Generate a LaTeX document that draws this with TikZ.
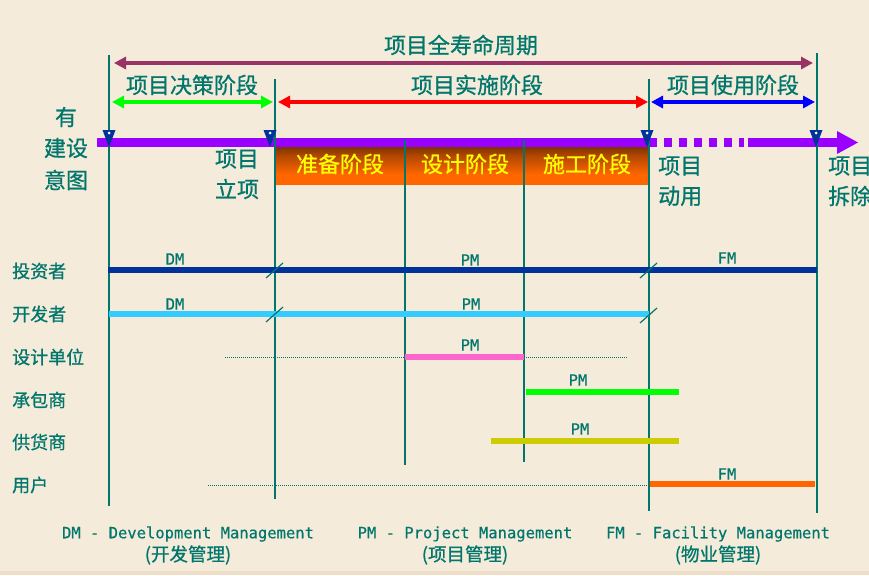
\documentclass[tikz,border=0pt]{standalone}
\usepackage{fontspec}
\setmainfont{Noto Sans CJK SC}[FakeBold=0.8]
\newfontfamily\monof{DejaVu Sans Mono}[FakeBold=0.5]
\usetikzlibrary{arrows.meta}
\definecolor{bgc}{RGB}{245,235,218}
\definecolor{tealc}{RGB}{0,118,108}
\definecolor{lifec}{RGB}{153,51,102}
\definecolor{greenc}{RGB}{0,255,0}
\definecolor{redc}{RGB}{255,0,0}
\definecolor{bluec}{RGB}{0,0,255}
\definecolor{barc}{RGB}{153,0,255}
\definecolor{navyc}{RGB}{0,51,153}
\definecolor{lbluec}{RGB}{51,204,255}
\definecolor{pinkc}{RGB}{255,102,204}
\definecolor{olivec}{RGB}{204,204,0}
\definecolor{orangec}{RGB}{255,102,0}
\definecolor{yellowc}{RGB}{255,255,0}
\pgfdeclareverticalshading{boxshade}{100bp}{color(0bp)=(orangec); color(38bp)=(orangec); color(62bp)=(orangec!70!black); color(85bp)=(orangec!30!black); color(100bp)=(black)}
\begin{document}
\begin{tikzpicture}[x=1pt,y=-1pt,
  lbl/.style={text=tealc, font=\fontsize{22}{26}\selectfont, inner sep=0pt},
  rowlbl/.style={text=tealc, font=\fontsize{18}{21}\selectfont, inner sep=0pt, anchor=west},
  stagetxt/.style={text=yellowc, font=\fontsize{22}{26}\selectfont, inner sep=0pt},
  mg/.style={text=tealc, font=\monof\fontsize{15.5}{18}\selectfont, inner sep=0pt},
  legcn/.style={text=tealc, font=\fontsize{18.5}{22}\selectfont, inner sep=0pt},
  vline/.style={draw=tealc, line width=2.6pt},
  phase/.style={line width=4pt, {Triangle[length=12pt,width=12pt]}-{Triangle[length=12pt,width=12pt]}},
  roleline/.style={line width=6pt},
  dotline/.style={draw=tealc, line width=1pt, dash pattern=on 1pt off 1pt},
  slash/.style={draw=tealc, line width=1.2pt},
  marker/.style={fill=navyc}
]
\useasboundingbox (0,0) rectangle (869,575);
\fill[bgc] (0,0) rectangle (869,575);
\fill[bgc!88!brown] (0,571) rectangle (869,575);
\clip (0,0) rectangle (869,575);

% ---------- stage boxes ----------
\shade[shading=boxshade] (276,146) rectangle (648,184);

% ---------- vertical lines ----------
\coordinate (v1t) at (109,55);  \coordinate (v1b) at (109,506);
\coordinate (v2t) at (275,79);  \coordinate (v2b) at (275,499);
\coordinate (v3t) at (405,140); \coordinate (v3b) at (405,465);
\coordinate (v4t) at (524,140); \coordinate (v4b) at (524,462);
\coordinate (v5t) at (649,79);  \coordinate (v5b) at (649,511);
\coordinate (v6t) at (817,53);  \coordinate (v6b) at (817,513);

% ---------- purple time bar ----------
\coordinate (b0) at (97,142.5);
\coordinate (b1) at (649,142.5);
\coordinate (b2) at (744,142.5);
\coordinate (b3) at (748,142.5);
\coordinate (b4) at (838,142.5);
\draw[barc, line width=8.5pt] (b0) -- (b1);
\draw[barc, line width=8.5pt, dash pattern=on 8pt off 7pt] (b1) -- (b2);
\draw[barc, line width=8.5pt] (b3) -- (b4);
\fill[barc] (837,131) -- (858,142.5) -- (837,154) -- cycle;

\draw[vline] (v1t) -- (v1b);
\draw[vline] (v2t) -- (v2b);
\draw[vline] (v3t) -- (v3b);
\draw[vline] (v4t) -- (v4b);
\draw[vline] (v5t) -- (v5b);
\draw[vline] (v6t) -- (v6b);

% ---------- markers ----------
\foreach \mx in {109,270,647,816}{
  \fill[marker] (\mx-6.5,130) -- (\mx+6.5,130) -- (\mx,147) -- cycle;
  \fill[white] (\mx,133) circle (1.5);
}

% ---------- phase arrows ----------
\coordinate (lcL) at (114,63);  \coordinate (lcR) at (813,63);
\coordinate (gL) at (112,102);  \coordinate (gR) at (273,102);
\coordinate (rL) at (278,102);  \coordinate (rR) at (648,102);
\coordinate (bL) at (651,102);  \coordinate (bR) at (815,102);
\draw[phase, lifec] (lcL) -- (lcR);
\draw[phase, greenc] (gL) -- (gR);
\draw[phase, redc] (rL) -- (rR);
\draw[phase, bluec] (bL) -- (bR);

\node[lbl] (tlife) at (461,45) {项目全寿命周期};
\node[lbl] (tdec) at (192,85) {项目决策阶段};
\node[lbl] (timp) at (477,85) {项目实施阶段};
\node[lbl] (tuse) at (733,85) {项目使用阶段};

% ---------- stage labels ----------
\node[stagetxt] (s1) at (340,164) {准备阶段};
\node[stagetxt] (s2) at (465,164) {设计阶段};
\node[stagetxt] (s3) at (587,164) {施工阶段};

% ---------- milestone labels ----------
\node[lbl] (m1a) at (66,117) {有};
\node[lbl] (m1b) at (66,148) {建设};
\node[lbl] (m1c) at (66,180) {意图};
\node[lbl] (m2a) at (237,159) {项目};
\node[lbl] (m2b) at (237,189) {立项};
\node[lbl, anchor=west] (m3a) at (658,166) {项目};
\node[lbl, anchor=west] (m3b) at (658,196) {动用};
\node[lbl, anchor=west] (m4a) at (828,166) {项目};
\node[lbl, anchor=west] (m4b) at (828,196) {拆除};

% ---------- role rows ----------
\node[rowlbl] (r1) at (12,271) {投资者};
\node[rowlbl] (r2) at (12,314) {开发者};
\node[rowlbl] (r3) at (12,357) {设计单位};
\node[rowlbl] (r4) at (12,400) {承包商};
\node[rowlbl] (r5) at (12,442) {供货商};
\node[rowlbl] (r6) at (12,485) {用户};

% investor
\coordinate (i0) at (108,270); \coordinate (i1) at (817,270);
\draw[roleline, navyc] (i0) -- (i1);
% developer
\coordinate (d0) at (109,314); \coordinate (d1) at (649,314);
\draw[roleline, lbluec] (d0) -- (d1);
% designer
\coordinate (e0) at (225,357); \coordinate (e1) at (405,357);
\coordinate (e2) at (524,357); \coordinate (e3) at (627,357);
\draw[dotline] (e0) -- (e1);
\draw[roleline, pinkc] (e1) -- (e2);
\draw[dotline] (e2) -- (e3);
% contractor
\coordinate (c0) at (526,392); \coordinate (c1) at (679,392);
\draw[roleline, greenc] (c0) -- (c1);
% supplier
\coordinate (p0) at (491,441); \coordinate (p1) at (679,441);
\draw[roleline, olivec] (p0) -- (p1);
% user
\coordinate (u0) at (208,485); \coordinate (u1) at (650,485);
\coordinate (u2) at (815,484);
\draw[dotline] (u0) -- (u1);
\draw[roleline, orangec] (u1|-u2) -- (u2);

% slashes
\coordinate (sa1) at (266,278); \coordinate (sa2) at (283,263);
\coordinate (sb1) at (266,322); \coordinate (sb2) at (283,307);
\coordinate (sc1) at (640,278); \coordinate (sc2) at (657,263);
\coordinate (sd1) at (640,323); \coordinate (sd2) at (657,308);
\draw[slash] (sa1) -- (sa2);
\draw[slash] (sb1) -- (sb2);
\draw[slash] (sc1) -- (sc2);
\draw[slash] (sd1) -- (sd2);

% management labels
\node[mg] (dm1) at (175,259) {DM};
\node[mg] (pm1) at (470,260) {PM};
\node[mg] (fm1) at (727,258) {FM};
\node[mg] (dm2) at (175,304) {DM};
\node[mg] (pm2) at (471,304) {PM};
\node[mg] (pm3) at (470,345) {PM};
\node[mg] (pm4) at (578,380) {PM};
\node[mg] (pm5) at (580,429) {PM};
\node[mg] (fm2) at (727,474) {FM};

% ---------- legend ----------
\node[mg] (lg1) at (188,534) {DM - Development Management};
\node[legcn] (lg1b) at (188,555) {(开发管理)};
\node[mg] (lg2) at (465,534) {PM - Project Management};
\node[legcn] (lg2b) at (465,555) {(项目管理)};
\node[mg] (lg3) at (718,534) {FM - Facility Management};
\node[legcn] (lg3b) at (718,555) {(物业管理)};
\end{tikzpicture}
\end{document}
